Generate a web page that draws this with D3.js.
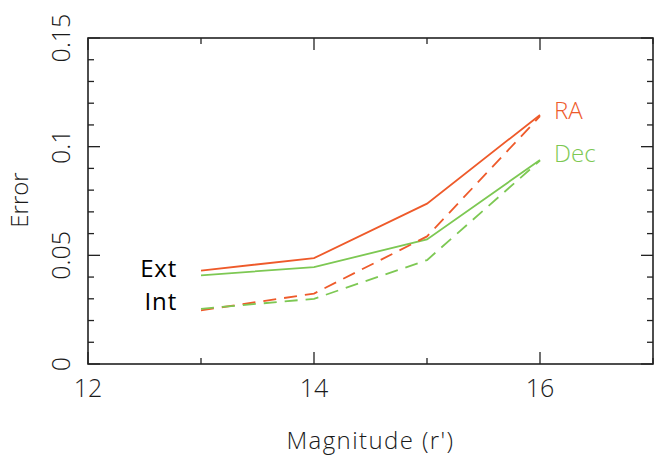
<!DOCTYPE html>
<html>
<head>
<meta charset="utf-8">
<script src="https://cdn.jsdelivr.net/npm/d3@7"></script>
<style>
	body { margin: 0; background: #fff; }
	text { font-family: "Open Sans", "DejaVu Sans", sans-serif; }
</style>
</head>
<body>
<script>
// Values
var magnitudes = [13, 14, 15, 16];
var raExt = [0.0430, 0.0487, 0.0738, 0.1146];
var decExt = [0.0408, 0.0446, 0.0573, 0.0939];
var raInt = [0.0247, 0.0324, 0.0587, 0.1140];
var decInt = [0.0254, 0.0300, 0.0478, 0.0936];

var xTicks = [12, 14, 16];
var xMinor = [13, 15, 17];
var yTicks = [0, 0.05, 0.1, 0.15];
var yMinor = d3.range(0, 0.151, 0.01);

var orange = "#ee5a2a";
var green = "#7dc853";

var width = 657, height = 457;
// plot box (note: "top" is reserved on window, so use a prefix)
var boxLeft = 88, boxRight = 653, boxTop = 38, boxBottom = 364;

var svg = d3.select("body")
	.append("svg")
		.attr("width", width)
		.attr("height", height);

var x = d3.scaleLinear().domain([12, 17]).range([boxLeft, boxRight]);
var y = d3.scaleLinear().domain([0, 0.15]).range([boxBottom, boxTop]);

var ink = "#222";
var labelInk = "#1a1a1a";

// Ticks on all four sides, pointing inwards
var g = svg.append("g").attr("stroke", ink).attr("stroke-width", 1.3);

function tick(x1, y1, x2, y2) {
	g.append("line").attr("x1", x1).attr("y1", y1).attr("x2", x2).attr("y2", y2);
}

yMinor.forEach(function(v) {
	var major = yTicks.some(function(t) { return Math.abs(t - v) < 1e-6; });
	var len = major ? 12 : 6;
	tick(boxLeft, y(v), boxLeft + len, y(v));
	tick(boxRight, y(v), boxRight - len, y(v));
});
xMinor.concat(xTicks).forEach(function(v) {
	var len = xTicks.indexOf(v) >= 0 ? 12 : 6;
	tick(x(v), boxBottom, x(v), boxBottom - len);
	tick(x(v), boxTop, x(v), boxTop + len);
});

svg.append("rect")
	.attr("x", boxLeft).attr("y", boxTop)
	.attr("width", boxRight - boxLeft).attr("height", boxBottom - boxTop)
	.attr("fill", "none")
	.attr("stroke", ink)
	.attr("stroke-width", 1.6);

// Tick labels
svg.append("g").selectAll("text")
	.data(xTicks)
	.enter().append("text")
		.attr("x", function(d) { return x(d); })
		.attr("y", 397)
		.attr("text-anchor", "middle")
		.attr("font-size", 25)
		.attr("font-weight", 300)
		.attr("fill", labelInk)
		.text(function(d) { return d; });

svg.append("g").selectAll("text")
	.data(yTicks)
	.enter().append("text")
		.attr("transform", function(d) { return "translate(70," + y(d) + ") rotate(-90)"; })
		.attr("text-anchor", "middle")
		.attr("font-size", 25)
		.attr("font-weight", 300)
		.attr("fill", labelInk)
		.text(function(d) { return d; });

// Axis titles
svg.append("text")
	.attr("x", (boxLeft + boxRight) / 2)
	.attr("y", 449)
	.attr("text-anchor", "middle")
	.attr("font-size", 24)
	.attr("font-weight", 300)
	.attr("letter-spacing", 1.4)
	.attr("fill", labelInk)
	.text("Magnitude (r')");

svg.append("text")
	.attr("transform", "translate(28,200) rotate(-90)")
	.attr("text-anchor", "middle")
	.attr("font-size", 24)
	.attr("font-weight", 300)
	.attr("fill", labelInk)
	.text("Error");

// Series
var series = [
	{ values: raExt, color: orange, dash: null },
	{ values: decExt, color: green, dash: null },
	{ values: raInt, color: orange, dash: "13,8" },
	{ values: decInt, color: green, dash: "13,8" }
];

var line = d3.line()
	.x(function(d) { return x(d[0]); })
	.y(function(d) { return y(d[1]); });

svg.append("g").selectAll("path")
	.data(series)
	.enter().append("path")
		.attr("d", function(s) { return line(d3.zip(magnitudes, s.values)); })
		.attr("fill", "none")
		.attr("stroke", function(s) { return s.color; })
		.attr("stroke-width", 1.8)
		.attr("stroke-dasharray", function(s) { return s.dash; });

// Labels
svg.append("text")
	.attr("x", 177).attr("y", 277)
	.attr("text-anchor", "end")
	.attr("font-size", 24)
	.attr("font-weight", 400)
	.attr("letter-spacing", 0.8)
	.attr("fill", "#000")
	.text("Ext");
svg.append("text")
	.attr("x", 177).attr("y", 310)
	.attr("text-anchor", "end")
	.attr("font-size", 24)
	.attr("font-weight", 400)
	.attr("letter-spacing", 0.8)
	.attr("fill", "#000")
	.text("Int");

svg.append("text")
	.attr("x", 554).attr("y", 119)
	.attr("font-size", 24)
	.attr("font-weight", 300)
	.attr("fill", orange)
	.text("RA");
svg.append("text")
	.attr("x", 554).attr("y", 162)
	.attr("font-size", 24)
	.attr("font-weight", 300)
	.attr("fill", green)
	.text("Dec");
</script>
</body>
</html>
